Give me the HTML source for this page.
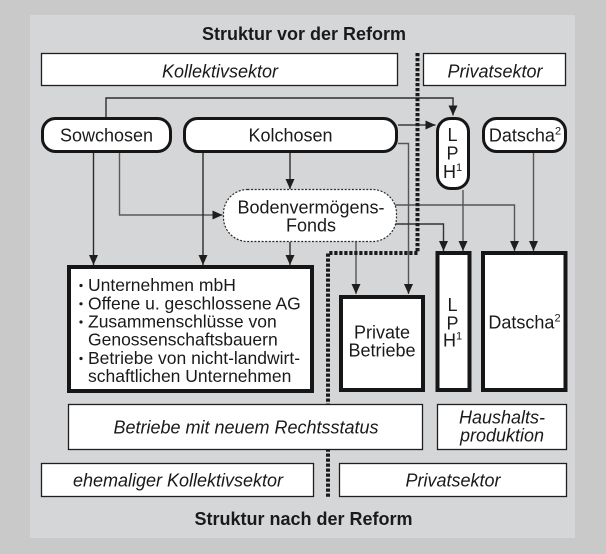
<!DOCTYPE html>
<html>
<head>
<meta charset="utf-8">
<style>
  html,body{margin:0;padding:0;background:#c9c9c9;}
  svg{display:block;}
  text{font-family:"Liberation Sans",Arial,sans-serif;fill:#1a1a1a;}
</style>
</head>
<body>
<svg width="606" height="554" viewBox="0 0 606 554" xmlns="http://www.w3.org/2000/svg">
  <defs>
    <marker id="ah" viewBox="0 0 10 10" refX="10" refY="5" markerWidth="10" markerHeight="10" markerUnits="userSpaceOnUse" orient="auto">
      <path d="M0,0.5 L10,5 L0,9.5 z" fill="#1e1e1e"/>
    </marker>
  </defs>

  <!-- backgrounds -->
  <rect x="0" y="0" width="606" height="554" fill="#c9c9c9"/>
  <rect x="30" y="15" width="545" height="523" fill="#d5d6d8"/>

  <!-- titles -->
  <text x="304" y="40" font-size="18" font-weight="bold" text-anchor="middle">Struktur vor der Reform</text>
  <text x="303.5" y="525" font-size="18" font-weight="bold" text-anchor="middle">Struktur nach der Reform</text>

  <!-- connectors -->
  <g fill="none" stroke-width="1.4">
    <!-- Sowchosen top to LPH -->
    <path d="M106,117 V98 H453 V115.5" stroke="#2e2e2e" marker-end="url(#ah)"/>
    <!-- Kolchosen to LPH -->
    <path d="M398,125 H435.5" stroke="#3a3a3a" marker-end="url(#ah)"/>
    <!-- Kolchosen right to Private Betriebe -->
    <path d="M398,143.5 H408.5 V294" stroke="#555" marker-end="url(#ah)"/>
    <!-- Kolchosen down to Fonds -->
    <path d="M290,153 V189" stroke="#2e2e2e" marker-end="url(#ah)"/>
    <!-- Sowchosen down -->
    <path d="M93.5,153 V265" stroke="#2a2a2a" marker-end="url(#ah)"/>
    <!-- Sowchosen to Fonds -->
    <path d="M119.5,153 V215 H222.5" stroke="#5a5a5a" marker-end="url(#ah)"/>
    <!-- Kolchosen down -->
    <path d="M203,153 V265" stroke="#2a2a2a" marker-end="url(#ah)"/>
    <!-- Fonds down -->
    <path d="M290,242 V265" stroke="#2e2e2e" marker-end="url(#ah)"/>
    <path d="M356,242 V294" stroke="#555" marker-end="url(#ah)"/>
    <!-- Fonds right to Datscha -->
    <path d="M392,205 H514.5 V251" stroke="#555" marker-end="url(#ah)"/>
    <!-- Fonds right to LPH -->
    <path d="M394,224 H443.5 V251" stroke="#333" marker-end="url(#ah)"/>
    <!-- LPH top down -->
    <path d="M463,190 V251" stroke="#555" marker-end="url(#ah)"/>
    <!-- Datscha top down -->
    <path d="M533.5,153 V251" stroke="#555" marker-end="url(#ah)"/>
  </g>

  <!-- dotted separator -->
  <path d="M417.5,53 V253 H328 V497" fill="none" stroke="#1a1a1a" stroke-width="4" stroke-dasharray="3.2 1.8"/>

  <!-- thin label boxes -->
  <g fill="#fff" stroke="#1f1f1f" stroke-width="1.3">
    <rect x="41.5" y="53.5" width="356" height="32"/>
    <rect x="423.5" y="53.5" width="142" height="32"/>
    <rect x="68.5" y="404.5" width="354" height="45"/>
    <rect x="437.5" y="404.5" width="129" height="45"/>
    <rect x="41.5" y="463.5" width="272" height="33"/>
    <rect x="339.5" y="463.5" width="227" height="33"/>
  </g>

  <!-- rounded boxes -->
  <g fill="#fff" stroke="#161616" stroke-width="3">
    <rect x="42.5" y="118.5" width="128" height="33" rx="13" ry="13"/>
    <rect x="184.5" y="118.5" width="212" height="33" rx="13" ry="13"/>
    <rect x="437.5" y="118.5" width="31" height="70" rx="13" ry="13"/>
    <rect x="483.5" y="118.5" width="82" height="33" rx="13" ry="13"/>
  </g>

  <!-- Fonds dashed -->
  <rect x="223.5" y="189.5" width="173" height="52" rx="24" ry="24" fill="#fff" stroke="#2a2a2a" stroke-width="1.2" stroke-dasharray="2 1.6"/>

  <!-- thick boxes -->
  <g fill="#fff" stroke="#161616" stroke-width="4">
    <rect x="69" y="267" width="243" height="124"/>
    <rect x="341" y="297" width="82" height="93"/>
    <rect x="437.5" y="253" width="32" height="137"/>
    <rect x="483" y="253" width="82.5" height="137"/>
  </g>

  <!-- labels -->
  <g font-size="18" text-anchor="middle">
    <text x="220" y="77.5" font-style="italic">Kollektivsektor</text>
    <text x="495" y="77.5" font-style="italic">Privatsektor</text>
    <text x="106.5" y="141.7">Sowchosen</text>
    <text x="290.5" y="141.7">Kolchosen</text>
    <text x="452.5" y="141">L</text>
    <text x="452.5" y="159.5">P</text>
    <text x="452.5" y="178">H<tspan font-size="11" dy="-7">1</tspan></text>
    <text x="525" y="141.7">Datscha<tspan font-size="11" dy="-7">2</tspan></text>
    <text x="311" y="213.3">Bodenvermögens-</text>
    <text x="311" y="231.7">Fonds</text>
    <text x="382" y="338.3">Private</text>
    <text x="382" y="356.7">Betriebe</text>
    <text x="452.5" y="311">L</text>
    <text x="452.5" y="329.3">P</text>
    <text x="452.5" y="346.7">H<tspan font-size="11" dy="-7">1</tspan></text>
    <text x="524.5" y="328.3">Datscha<tspan font-size="11" dy="-7">2</tspan></text>
    <text x="246" y="433.3" font-style="italic">Betriebe mit neuem Rechtsstatus</text>
    <text x="502" y="423.3" font-style="italic">Haushalts-</text>
    <text x="502" y="441.7" font-style="italic">produktion</text>
    <text x="178" y="486.7" font-style="italic">ehemaliger Kollektivsektor</text>
    <text x="453" y="486.7" font-style="italic">Privatsektor</text>
  </g>

  <!-- bullet list -->
  <g fill="#1a1a1a">
    <circle cx="81" cy="285.5" r="1.6"/>
    <circle cx="81" cy="303.8" r="1.6"/>
    <circle cx="81" cy="322" r="1.6"/>
    <circle cx="81" cy="358.5" r="1.6"/>
  </g>
  <g font-size="17.5">
    <text x="88" y="291">Unternehmen mbH</text>
    <text x="88" y="309.3">Offene u. geschlossene AG</text>
    <text x="88" y="327.5">Zusammenschlüsse von</text>
    <text x="88" y="345.7">Genossenschaftsbauern</text>
    <text x="88" y="364">Betriebe von nicht-landwirt-</text>
    <text x="88" y="382.2">schaftlichen Unternehmen</text>
  </g>
</svg>
</body>
</html>
